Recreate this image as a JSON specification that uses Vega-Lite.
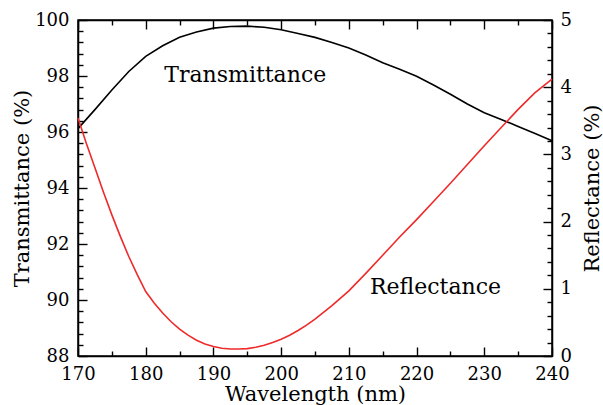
{
  "$schema": "https://vega.github.io/schema/vega-lite/v6.json",
  "width": 474,
  "height": 336,
  "autosize": "none",
  "padding": {"left": 78, "top": 20, "right": 51, "bottom": 49},
  "datasets": {
    "trans": [
      {"wl": 170, "T": 96.12}, {"wl": 172.5, "T": 96.8}, {"wl": 175, "T": 97.5}, {"wl": 177.5, "T": 98.16},
      {"wl": 180, "T": 98.7}, {"wl": 182.5, "T": 99.08}, {"wl": 185, "T": 99.38}, {"wl": 187.5, "T": 99.57},
      {"wl": 190, "T": 99.71}, {"wl": 192.5, "T": 99.77}, {"wl": 195, "T": 99.78}, {"wl": 197.5, "T": 99.74},
      {"wl": 200, "T": 99.65}, {"wl": 202.5, "T": 99.52}, {"wl": 205, "T": 99.38}, {"wl": 207.5, "T": 99.2},
      {"wl": 210, "T": 99.0}, {"wl": 212.5, "T": 98.75}, {"wl": 215, "T": 98.47}, {"wl": 217.5, "T": 98.24},
      {"wl": 220, "T": 97.99}, {"wl": 222.5, "T": 97.68}, {"wl": 225, "T": 97.35}, {"wl": 227.5, "T": 97.0},
      {"wl": 230, "T": 96.69}, {"wl": 232.5, "T": 96.45}, {"wl": 235, "T": 96.2}, {"wl": 237.5, "T": 95.95},
      {"wl": 240, "T": 95.69}
    ],
    "refl": [
      {"wl": 170, "R": 3.54}, {"wl": 171.25, "R": 3.16}, {"wl": 172.5, "R": 2.8}, {"wl": 173.75, "R": 2.44},
      {"wl": 175, "R": 2.1}, {"wl": 176.25, "R": 1.78}, {"wl": 177.5, "R": 1.48}, {"wl": 178.75, "R": 1.21},
      {"wl": 180, "R": 0.96}, {"wl": 181.25, "R": 0.79}, {"wl": 182.5, "R": 0.64}, {"wl": 183.75, "R": 0.51},
      {"wl": 185, "R": 0.4}, {"wl": 186.25, "R": 0.31}, {"wl": 187.5, "R": 0.235}, {"wl": 188.75, "R": 0.18},
      {"wl": 190, "R": 0.14}, {"wl": 191.25, "R": 0.115}, {"wl": 192.5, "R": 0.105}, {"wl": 193.75, "R": 0.104},
      {"wl": 195, "R": 0.11}, {"wl": 196.25, "R": 0.13}, {"wl": 197.5, "R": 0.16}, {"wl": 198.75, "R": 0.2},
      {"wl": 200, "R": 0.25}, {"wl": 201.25, "R": 0.31}, {"wl": 202.5, "R": 0.38}, {"wl": 203.75, "R": 0.46},
      {"wl": 205, "R": 0.55}, {"wl": 207.5, "R": 0.75}, {"wl": 210, "R": 0.97}, {"wl": 212.5, "R": 1.23},
      {"wl": 215, "R": 1.5}, {"wl": 217.5, "R": 1.77}, {"wl": 220, "R": 2.03}, {"wl": 222.5, "R": 2.3},
      {"wl": 225, "R": 2.57}, {"wl": 227.5, "R": 2.85}, {"wl": 230, "R": 3.13}, {"wl": 232.5, "R": 3.4},
      {"wl": 235, "R": 3.67}, {"wl": 237.5, "R": 3.92}, {"wl": 240, "R": 4.12}
    ]
  },
  "config": {
    "view": {"stroke": "black", "strokeWidth": 1.5},
    "axis": {
      "domainColor": "black", "domainWidth": 1.5,
      "tickColor": "black", "tickWidth": 1.4,
      "labelFont": "DejaVu Serif", "labelFontSize": 18, "labelColor": "black",
      "titleFont": "DejaVu Serif", "titleFontSize": 21, "titleFontWeight": "normal", "titleColor": "black",
      "grid": false, "labelOverlap": false, "labelFlush": false
    },
    "text": {"font": "DejaVu Serif"}
  },
  "layer": [
    {
      "layer": [
        {
          "data": {"name": "trans"},
          "mark": {"type": "line", "color": "black", "strokeWidth": 1.6},
          "encoding": {
            "x": {"field": "wl", "type": "quantitative", "scale": {"domain": [170, 240], "nice": false, "zero": false},
              "axis": {"orient": "bottom", "title": "Wavelength (nm)", "values": [170,180,190,200,210,220,230,240],
                "tickSize": -9, "labelPadding": 18, "titlePadding": 0, "labelOverlap": false}},
            "y": {"field": "T", "type": "quantitative", "scale": {"domain": [88, 100], "nice": false, "zero": false},
              "axis": {"orient": "left", "title": "Transmittance (%)", "values": [88,90,92,94,96,98,100],
                "tickSize": -9, "labelPadding": 18, "titlePadding": 2, "labelOverlap": false}}
          }
        },
        {
          "data": {"values": [{"wl": 194.7, "T": 97.8, "label": "Transmittance"}]},
          "mark": {"type": "text", "fontSize": 22, "color": "black", "align": "center", "baseline": "alphabetic"},
          "encoding": {
            "x": {"field": "wl", "type": "quantitative"},
            "y": {"field": "T", "type": "quantitative"},
            "text": {"field": "label"}
          }
        }
      ]
    },
    {
      "layer": [
        {
          "data": {"name": "refl"},
          "mark": {"type": "line", "color": "#ee2a2a", "strokeWidth": 1.6},
          "encoding": {
            "x": {"field": "wl", "type": "quantitative", "scale": {"domain": [170, 240], "nice": false, "zero": false},
              "axis": {"orient": "top", "title": null, "labels": false, "values": [170,180,190,200,210,220,230,240], "tickSize": -9}},
            "y": {"field": "R", "type": "quantitative", "scale": {"domain": [0, 5], "nice": false, "zero": false},
              "axis": {"orient": "right", "title": "Reflectance (%)", "titleAngle": -90, "format": "d",
                "values": [0,1,2,3,4,5], "tickSize": -9, "labelPadding": 17, "titlePadding": 31, "labelOverlap": false}}
          }
        },
        {
          "data": {"values": [{"wl": 222.8, "R": 0.92, "label": "Reflectance"}]},
          "mark": {"type": "text", "fontSize": 22, "color": "black", "align": "center", "baseline": "alphabetic"},
          "encoding": {
            "x": {"field": "wl", "type": "quantitative"},
            "y": {"field": "R", "type": "quantitative"},
            "text": {"field": "label"}
          }
        }
      ]
    },
    {
      "data": {"name": "trans"},
      "mark": {"type": "line", "opacity": 0},
      "encoding": {
        "x": {"field": "wl", "type": "quantitative", "scale": {"domain": [170, 240], "nice": false, "zero": false},
          "axis": {"orient": "bottom", "title": null, "labels": false, "domain": false, "values": [175,185,195,205,215,225,235], "tickSize": -5}},
        "y": {"field": "T", "type": "quantitative", "scale": {"domain": [88, 100], "nice": false, "zero": false},
          "axis": {"orient": "left", "title": null, "labels": false, "domain": false,
            "values": [88.4,88.8,89.2,89.6,90.4,90.8,91.2,91.6,92.4,92.8,93.2,93.6,94.4,94.8,95.2,95.6,96.4,96.8,97.2,97.6,98.4,98.8,99.2,99.6], "tickSize": -5}}
      }
    },
    {
      "data": {"name": "refl"},
      "mark": {"type": "line", "opacity": 0},
      "encoding": {
        "x": {"field": "wl", "type": "quantitative", "scale": {"domain": [170, 240], "nice": false, "zero": false},
          "axis": {"orient": "top", "title": null, "labels": false, "domain": false, "values": [175,185,195,205,215,225,235], "tickSize": -5}},
        "y": {"field": "R", "type": "quantitative", "scale": {"domain": [0, 5], "nice": false, "zero": false},
          "axis": {"orient": "right", "title": null, "labels": false, "domain": false,
            "values": [0.2,0.4,0.6,0.8,1.2,1.4,1.6,1.8,2.2,2.4,2.6,2.8,3.2,3.4,3.6,3.8,4.2,4.4,4.6,4.8], "tickSize": -5}}
      }
    }
  ],
  "resolve": {"scale": {"x": "independent", "y": "independent"}}
}
